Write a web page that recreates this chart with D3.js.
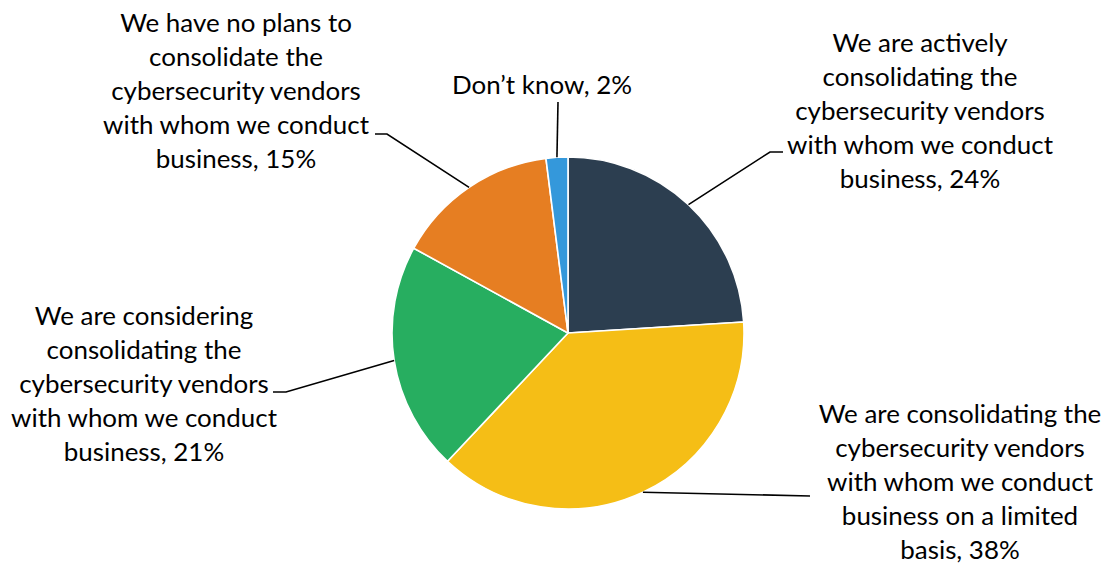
<!DOCTYPE html>
<html>
<head>
<meta charset="utf-8">
<script src="https://cdn.jsdelivr.net/npm/d3@7/dist/d3.min.js"></script>
<style>
  html, body { margin: 0; padding: 0; background: #ffffff; }
  svg { display: block; }
  text { font-family: Lato, "Open Sans", "Noto Sans", sans-serif; fill: #000; }
</style>
</head>
<body>
<svg id="chart" width="1104" height="565"></svg>
<script>
// Survey responses: stance on consolidating cybersecurity vendors
const categories = [
  "We are actively consolidating the cybersecurity vendors with whom we conduct business",
  "We are consolidating the cybersecurity vendors with whom we conduct business on a limited basis",
  "We are considering consolidating the cybersecurity vendors with whom we conduct business",
  "We have no plans to consolidate the cybersecurity vendors with whom we conduct business",
  "Don\u2019t know"
];
const values = [24, 38, 21, 15, 2];
const colors = ["#2C3E50", "#F5BE16", "#27AE60", "#E67E22", "#3498DB"];

// How each data label wraps onto lines
const labelLines = [
  ["We are actively", "consolidating the", "cybersecurity vendors", "with whom we conduct", "business, 24%"],
  ["We are consolidating the", "cybersecurity vendors", "with whom we conduct", "business on a limited", "basis, 38%"],
  ["We are considering", "consolidating the", "cybersecurity vendors", "with whom we conduct", "business, 21%"],
  ["We have no plans to", "consolidate the", "cybersecurity vendors", "with whom we conduct", "business, 15%"],
  ["Don\u2019t know, 2%"]
];

// Label placement: text centre x, first baseline y, leader elbow & end points
const labelLayout = [
  { x: 920, y: 52,  leader: [[770, 152], [783, 152]] },
  { x: 960, y: 423, leader: [[810, 496]] },
  { x: 144, y: 325, leader: [[286, 392], [273, 392]] },
  { x: 236, y: 32,  leader: [[387, 134], [375, 134]] },
  { x: 542, y: 94,  leader: [[558, 102]] }
];

const svg = d3.select("#chart");
const cx = 568, cy = 333, radius = 176;
const lineHeight = 34;

// Size the type so a full label line has the intended width
const probe = svg.append("text").attr("font-size", 28).text("with whom we conduct");
const probeW = probe.node().getComputedTextLength();
probe.remove();
const fontSize = 28 * 266 / probeW;

const pie = d3.pie().sort(null).value(d => d)(values);
const arc = d3.arc().innerRadius(0).outerRadius(radius);
const edge = d3.arc().innerRadius(radius).outerRadius(radius);

const g = svg.append("g").attr("transform", `translate(${cx},${cy})`);

g.selectAll("path.slice")
  .data(pie)
  .join("path")
  .attr("class", "slice")
  .attr("d", arc)
  .attr("fill", (d, i) => colors[i])
  .attr("stroke", "#ffffff")
  .attr("stroke-width", 1.6)
  .attr("stroke-linejoin", "round");

// Leader lines from the slice edge at mid-angle to the label
const line = d3.line();
svg.selectAll("path.leader")
  .data(pie)
  .join("path")
  .attr("class", "leader")
  .attr("d", (d, i) => {
    const [ex, ey] = edge.centroid(d);
    return line([[cx + ex, cy + ey], ...labelLayout[i].leader]);
  })
  .attr("fill", "none")
  .attr("stroke", "#000")
  .attr("stroke-width", 1.6);

// Data labels
const labels = svg.selectAll("text.label")
  .data(pie)
  .join("text")
  .attr("class", "label")
  .attr("text-anchor", "middle")
  .attr("font-size", fontSize)
  .attr("x", (d, i) => labelLayout[i].x)
  .attr("y", (d, i) => labelLayout[i].y);

labels.each(function (d, i) {
  d3.select(this).selectAll("tspan")
    .data(labelLines[i])
    .join("tspan")
    .attr("x", labelLayout[i].x)
    .attr("y", (t, k) => labelLayout[i].y + k * lineHeight)
    .text(t => t);
});
</script>
</body>
</html>
